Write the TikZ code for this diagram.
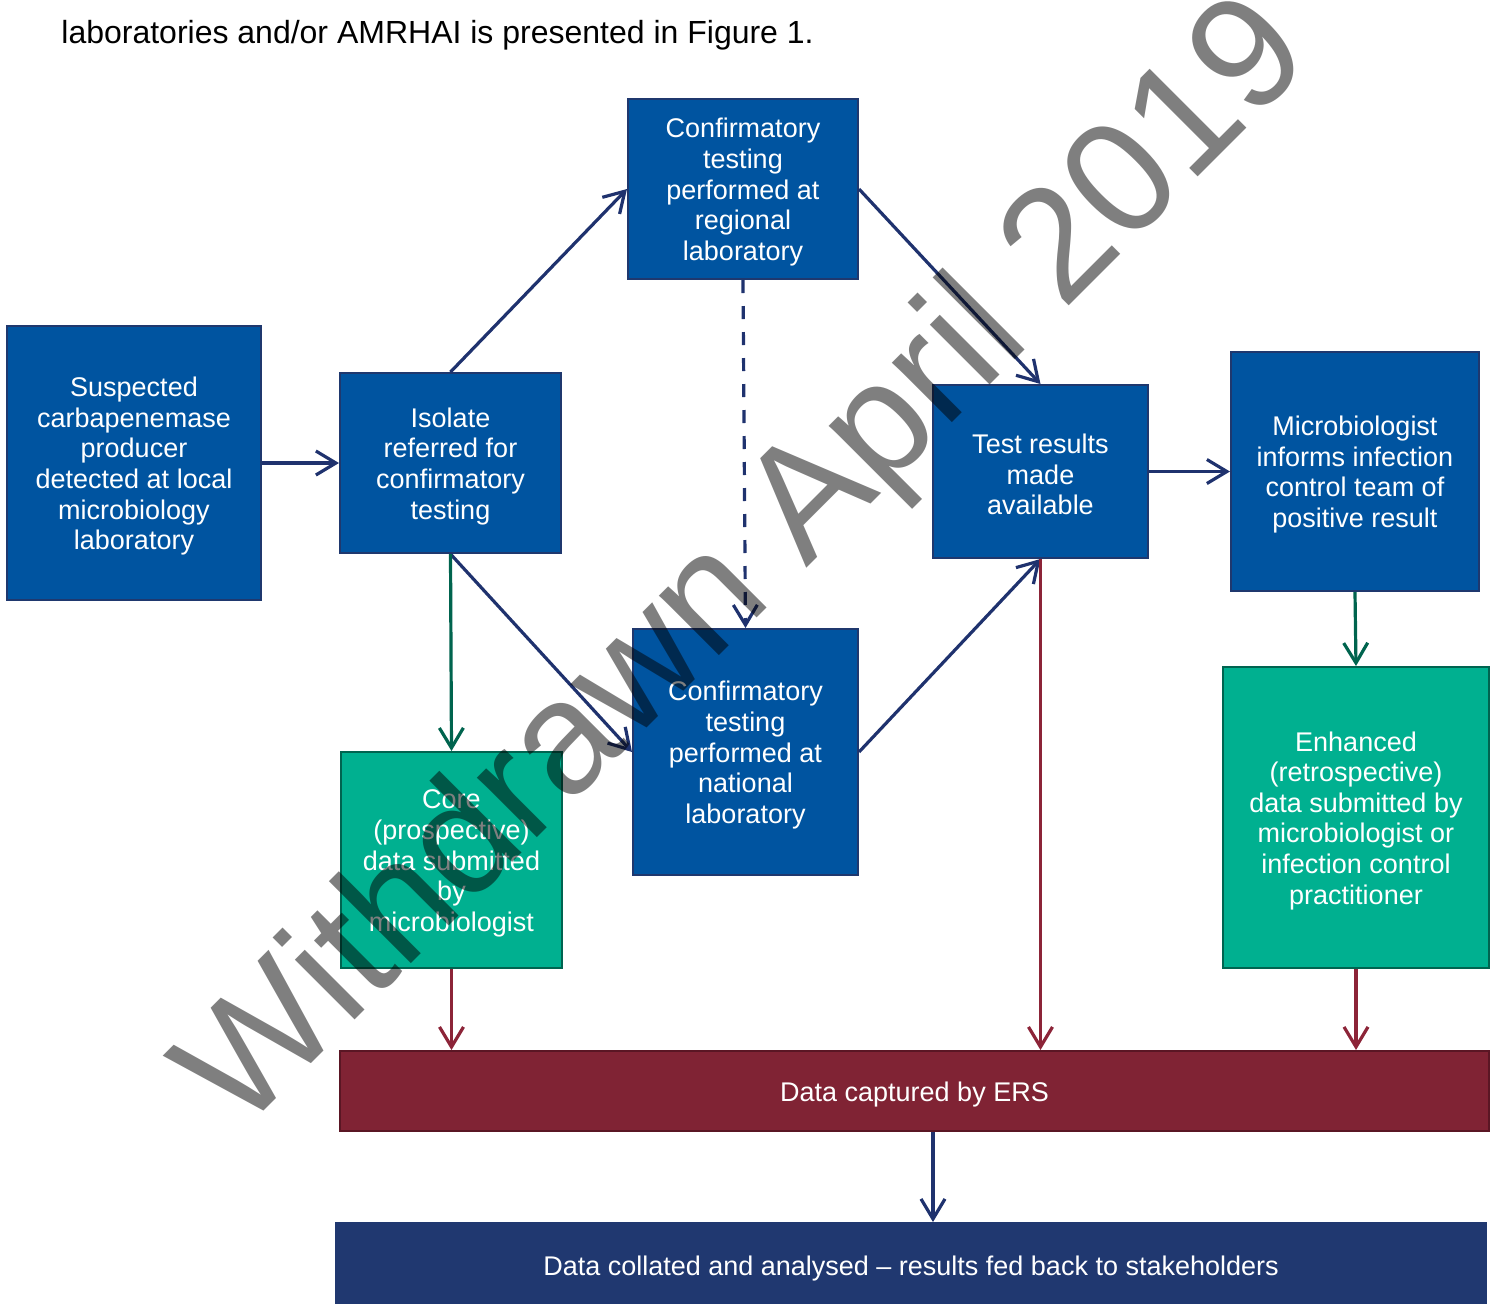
\documentclass[tikz,border=0pt]{standalone}
\usepackage{fontspec}
\setmainfont{Liberation Sans}
\usetikzlibrary{arrows.meta, positioning, calc}

\definecolor{boxblue}{RGB}{0,84,160}
\definecolor{boxedge}{RGB}{31,56,110}
\definecolor{boxgreen}{RGB}{0,176,144}
\definecolor{greenedge}{RGB}{0,100,80}
\definecolor{boxred}{RGB}{128,35,52}
\definecolor{rededge}{RGB}{90,22,36}
\definecolor{barnavy}{RGB}{32,56,112}
\definecolor{arrnavy}{RGB}{31,50,110}
\definecolor{arrgreen}{RGB}{0,100,78}
\definecolor{arrred}{RGB}{140,36,56}

\newcommand{\rowstrut}{\rule{0pt}{12.9pt}}

\begin{document}
\begin{tikzpicture}[x=0.5pt, y=-0.5pt, >={Straight Barb[length=10pt, width=12pt]}]

	\tikzset{
		box/.style={draw=boxedge, line width=1pt, fill=boxblue, text=white, align=center,
			inner sep=0pt, font=\fontsize{13.5}{15.3}\selectfont},
		greenbox/.style={box, draw=greenedge, fill=boxgreen},
		redbar/.style={box, draw=rededge, fill=boxred},
		navybar/.style={box, draw=barnavy, fill=barnavy},
		navyarrow/.style={->, line width=1.6pt, arrnavy},
		greenarrow/.style={->, line width=1.6pt, arrgreen},
		redarrow/.style={->, line width=1.6pt, arrred},
		dasharrow/.style={navyarrow, dash pattern=on 6.5pt off 6.5pt},
		watermark/.style={rotate=45, anchor=base, inner sep=0pt, text=black, text opacity=0.5,
			font=\fontsize{80}{82}\selectfont}
	}

	\useasboundingbox (0,0) rectangle (1496,1303);

	\node[anchor=base west, inner sep=0pt, font=\fontsize{16}{19}\selectfont] (intro) at (61,43)
		{laboratories and/or AMRHAI is presented in Figure 1.};

	\node[box, minimum width=127pt, minimum height=137pt] (suspect) at (134,463)
		{\rowstrut Suspected\\carbapenemase\\producer\\detected at local\\microbiology\\laboratory};
	\node[box, minimum width=110.5pt, minimum height=90pt] (isolate) at (450.5,463)
		{\rowstrut Isolate\\referred for\\confirmatory\\testing};
	\node[box, minimum width=115pt, minimum height=90pt] (regional) at (743,189)
		{\rowstrut Confirmatory\\testing\\performed at\\regional\\laboratory};
	\node[box, minimum width=112.5pt, minimum height=123pt] (national) at (745.5,752)
		{\rowstrut Confirmatory\\testing\\performed at\\national\\laboratory};
	\node[greenbox, minimum width=110.5pt, minimum height=108pt] (core) at (451.5,860)
		{\rowstrut Core\\(prospective)\\data submitted\\by\\microbiologist};
	\node[box, minimum width=107.5pt, minimum height=86.5pt] (test) at (1040.5,471.5)
		{\rowstrut Test results\\made\\available};
	\node[box, minimum width=124pt, minimum height=119.5pt] (micro) at (1355,471.5)
		{\rowstrut Microbiologist\\informs infection\\control team of\\positive result};
	\node[greenbox, minimum width=133pt, minimum height=150.5pt] (enhanced) at (1356,817.5)
		{\rowstrut Enhanced\\(retrospective)\\data submitted by\\microbiologist or\\infection control\\practitioner};
	\node[redbar, minimum width=574.5pt, minimum height=40pt] (ers) at (914.5,1091)
		{\rowstrut Data captured by ERS};
	\node[navybar, minimum width=575pt, minimum height=42pt] (final) at (911,1265)
		{\rowstrut Data collated and analysed -- results fed back to stakeholders};

	\draw[navyarrow] (suspect) -- (isolate);
	\draw[navyarrow] (isolate.north) -- (regional.west);
	\draw[navyarrow] (isolate.south) -- (national.west);
	\draw[navyarrow] (regional.east) -- (test.north);
	\draw[navyarrow] (national.east) -- (test.south);
	\draw[dasharrow] (regional.south) -- (national.north);
	\draw[navyarrow] (test) -- (micro);

	\draw[greenarrow] (isolate.south) -- (core.north);
	\draw[greenarrow] (micro.south) -- (enhanced.north);

	\draw[redarrow] (core.south) -- (core.south |- ers.north);
	\draw[redarrow] (test.south) -- (test.south |- ers.north);
	\draw[redarrow] (enhanced.south) -- (enhanced.south |- ers.north);

	\coordinate (ersout) at ($(ers.south)+(18.5,0)$);
	\draw[navyarrow] (ersout) -- (ersout |- final.north);

	\node[watermark] (wmark) at (778,597) {Withdrawn April 2019};

\end{tikzpicture}
\end{document}
